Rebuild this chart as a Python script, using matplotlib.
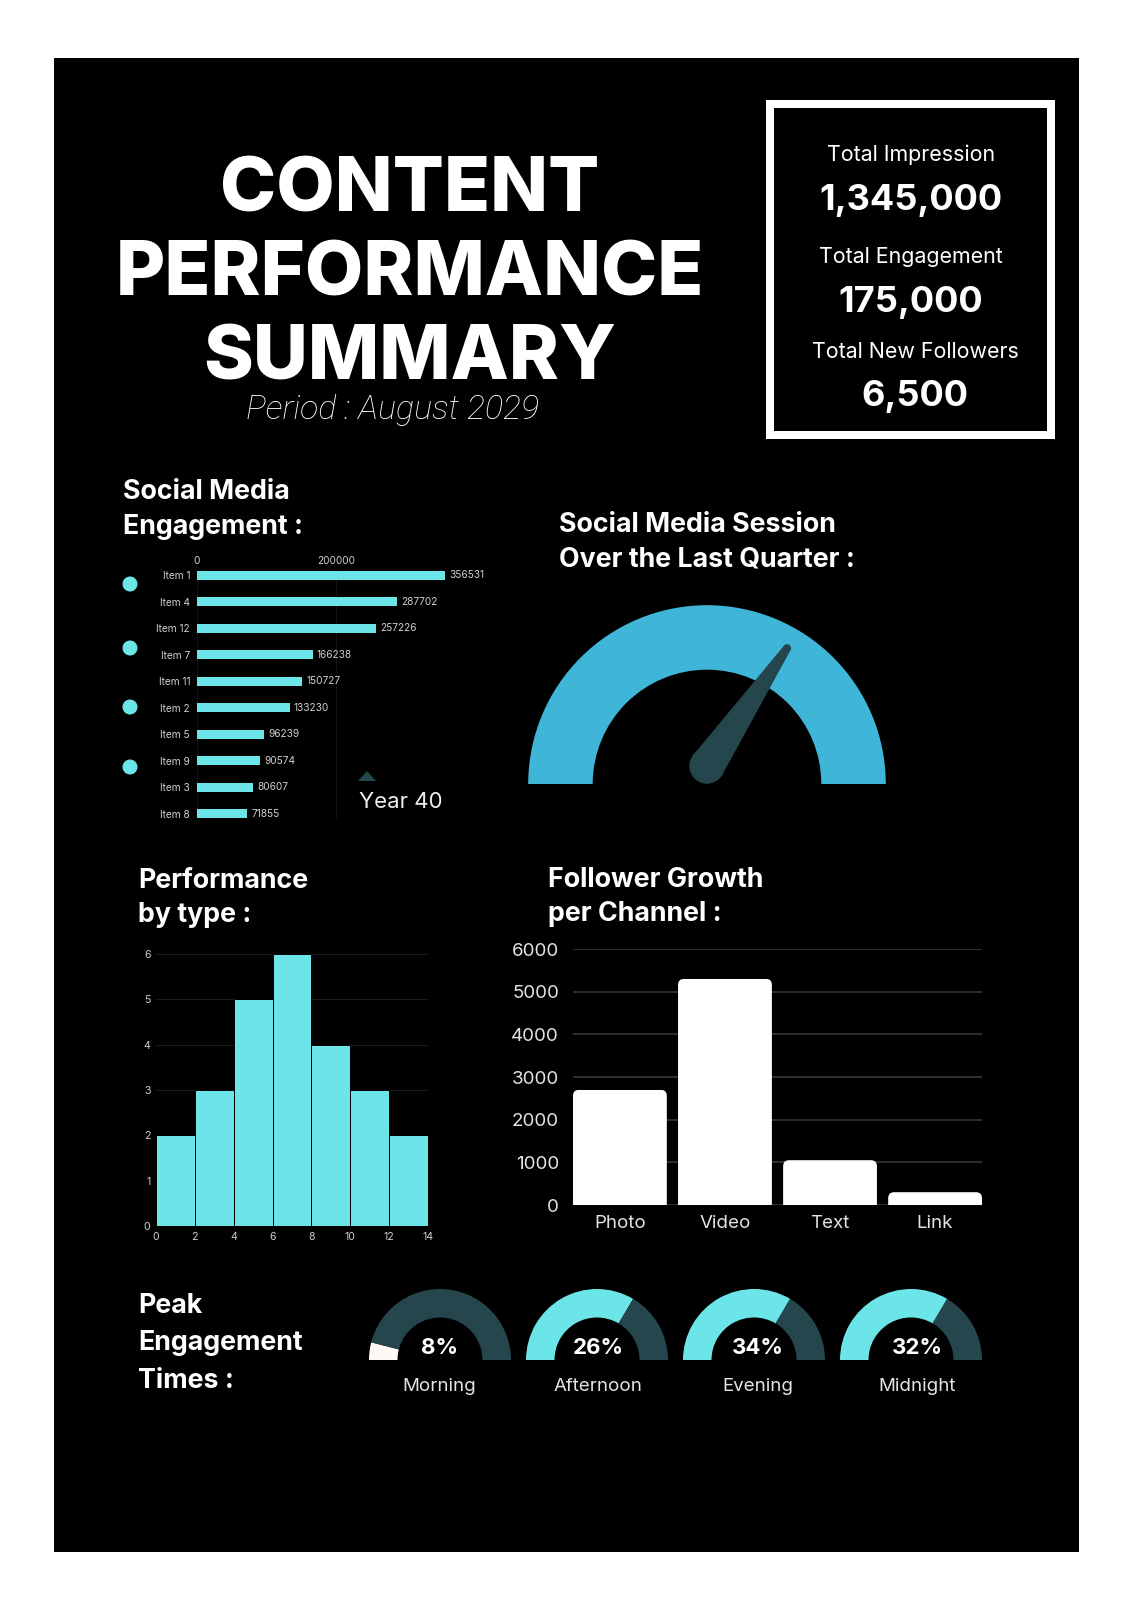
import numpy as np
import matplotlib
matplotlib.use('Agg')
import matplotlib.pyplot as plt
from matplotlib.patches import Rectangle, Polygon, Circle, FancyBboxPatch

W, H = 1131, 1600
CYAN = '#6CE5E8'
TEAL = '#24464C'
BLUE = '#3FB6D8'
HEAD = 'Inter'
BODY = 'Inter'

# Social media engagement
item_names = ['Item 1', 'Item 4', 'Item 12', 'Item 7', 'Item 11',
              'Item 2', 'Item 5', 'Item 9', 'Item 3', 'Item 8']
item_values = [356531, 287702, 257226, 166238, 150727,
               133230, 96239, 90574, 80607, 71855]
legend_dots_y = [584, 648, 707, 767]

# session gauge, share of the half circle
session_value = 0.69

# performance by type
hist_edges = [0, 2, 4, 6, 8, 10, 12, 14]
hist_counts = [2, 3, 5, 6, 4, 3, 2]

# follower growth
channels = ['Photo', 'Video', 'Text', 'Link']
followers = [2700, 5300, 1050, 300]

# peak times
peak_names = ['Morning', 'Afternoon', 'Evening', 'Midnight']
peak_labels = ['8%', '26%', '34%', '32%']
peak_fill = [0.08, 0.67, 0.67, 0.67]
peak_colors = ['#FFF8F6', CYAN, CYAN, CYAN]
peak_centers = [440, 597, 754, 911]
peak_text_x = [439, 598, 757.5, 917]

stat_names = ['Total Impression', 'Total Engagement', 'Total New Followers']
stat_values = ['1,345,000', '175,000', '6,500']

fig = plt.figure(figsize=(W / 100, H / 100), dpi=100, facecolor='white')


def px_axes(x0, y0, x1, y1):
    ax = fig.add_axes([x0 / W, 1 - y1 / H, (x1 - x0) / W, (y1 - y0) / H])
    ax.set_facecolor('none')
    return ax


page = px_axes(0, 0, W, H)
page.set_xlim(0, W)
page.set_ylim(H, 0)
page.axis('off')
page.add_patch(Rectangle((54, 58), 1025, 1494, color='black', lw=0))
page.add_patch(Rectangle((770, 104), 281, 331, fill=False, ec='white', lw=5.76))


def put(x, y, s, size, weight='normal', ha='left', family=BODY, **kw):
    page.text(x, y, s, fontsize=size, fontweight=weight, ha=ha, va='baseline',
              family=family, color=kw.pop('color', 'white'), **kw)


# title block
for y, s in zip([212, 296, 380], ['CONTENT', 'PERFORMANCE', 'SUMMARY']):
    put(410, y, s, 54.5, 'heavy', ha='center', family=HEAD)
put(393, 419, 'Period : August 2029', 24.5, 'light', ha='center', style='italic', family='Roboto')

for y, x, s in zip([161, 263, 358], [911, 911, 915], stat_names):
    put(x, y, s, 15.4, ha='center')
for y, x, s in zip([210, 312, 406], [911, 911, 915], stat_values):
    put(x, y, s, 26, 'bold', ha='center')

# headings
for x, y, s in [(123, 499, 'Social Media'), (123, 534, 'Engagement :'),
                (559, 532, 'Social Media Session'), (559, 566, 'Over the Last Quarter :'),
                (138, 888, 'Performance'), (138, 922, 'by type :'),
                (548, 887, 'Follower Growth'), (548, 921, 'per Channel :'),
                (138, 1313, 'Peak'), (138, 1350, 'Engagement'), (138, 1388, 'Times :')]:
    put(x, y, s, 19.3, 'bold', family=HEAD)

# horizontal bars
ax = px_axes(197, 570, 500, 818)
pos = np.arange(len(item_values))
bars = ax.barh(pos, item_values, height=0.34, color=CYAN)
ax.bar_label(bars, labels=[str(v) for v in item_values], padding=3.2,
             fontsize=7.3, color='#cfcfcf', family=BODY)
ax.set_xlim(0, 436000)
ax.set_ylim(9.17, -0.2)
ax.set_yticks(pos, item_names)
ax.set_xticks([0, 200000], ['0', '200000'])
ax.xaxis.tick_top()
ax.tick_params(length=0, labelsize=7.3, labelcolor='#cfcfcf', pad=5)
ax.tick_params(axis='x', pad=3)
ax.grid(axis='x', color='#111516', lw=0.8)
ax.set_axisbelow(True)
for sp in ax.spines.values():
    sp.set_visible(False)
for lab in ax.get_xticklabels() + ax.get_yticklabels():
    lab.set_family(BODY)

for y in legend_dots_y:
    page.add_patch(Circle((130, y), 7.5, color=CYAN, lw=0))
page.add_patch(Polygon([(358, 781), (367, 771), (376, 781)], color=TEAL, lw=0))
put(359, 808, 'Year 40', 16, color='#eeeeee')

# session gauge
R = 178.8
ax = px_axes(707 - R, 784 - R, 707 + R, 784 + R)
ax.pie([1, 1], colors=[BLUE, 'none'], startangle=180,
       counterclock=False, radius=1, wedgeprops={'width': 1 - 114.3 / R, 'lw': 0})
ax.set_xlim(-1, 1)
ax.set_ylim(-1, 1)
ang = np.pi * (1 - session_value)
base = np.array([0, 18 / R])
tip = base + 142.5 / R * np.array([np.cos(ang), np.sin(ang)])
nrm = np.array([-np.sin(ang), np.cos(ang)])
r0, r1 = 17.7 / R, 4 / R
ax.add_patch(Polygon([base + nrm * r0, tip + nrm * r1, tip - nrm * r1, base - nrm * r0],
                     color=TEAL, lw=0))
ax.add_patch(Circle(base, r0, color=TEAL, lw=0))
ax.add_patch(Circle(tip, r1, color=TEAL, lw=0))

# performance by type
ax = px_axes(156, 954, 428, 1226)
ax.bar(hist_edges[:-1], hist_counts, width=2, align='edge', color=CYAN,
       edgecolor='black', lw=0.7, zorder=3)
ax.set_xlim(0, 14)
ax.set_ylim(0, 6)
ax.set_xticks(hist_edges)
ax.set_yticks(range(7))
ax.tick_params(length=0, labelsize=7.6, labelcolor='#cfcfcf', pad=4)
ax.grid(axis='y', color='#1c1c1c', lw=0.8)
ax.set_axisbelow(True)
for sp in ax.spines.values():
    sp.set_visible(False)
for lab in ax.get_xticklabels() + ax.get_yticklabels():
    lab.set_family(BODY)

# follower growth
ax = px_axes(573, 949, 982, 1205)
x = np.arange(len(channels))
bar_w = 0.893
bars = ax.bar(x, followers, width=bar_w, color='white', zorder=3)
ax.set_xlim(-bar_w / 2, 3 + bar_w / 2)
ax.set_ylim(0, 6000)
ax.set_xticks(x, channels)
ax.set_yticks(range(0, 7000, 1000))
ax.tick_params(length=0, labelsize=13.5, labelcolor='#e4e4e4', pad=10)
ax.tick_params(axis='x', pad=7.5)
ax.grid(axis='y', color='#3c3c3c', lw=1.1)
ax.set_axisbelow(True)
for sp in ax.spines.values():
    sp.set_visible(False)
for lab in ax.get_xticklabels() + ax.get_yticklabels():
    lab.set_family(BODY)
# rounded top corners
rx = 6 / 105
ry = 6 / (256 / 6000)
for b in bars:
    clip = FancyBboxPatch((b.get_x(), -1000), b.get_width(), b.get_height() + 1000,
                          boxstyle=f'round,pad=0,rounding_size={rx}', mutation_aspect=ry / rx,
                          transform=ax.transData)
    b.set_clip_path(clip)

# peak times
R = 71
for cx, tx, frac, col, pct, name in zip(peak_centers, peak_text_x, peak_fill, peak_colors,
                                        peak_labels, peak_names):
    ax = px_axes(cx - R, 1360 - R, cx + R, 1360 + R)
    ax.pie([frac, 1 - frac, 1], colors=[col, TEAL, 'none'], startangle=180, counterclock=False,
           radius=1, wedgeprops={'width': 1 - 42.5 / R, 'lw': 0})
    ax.set_xlim(-1, 1)
    ax.set_ylim(-1, 1)
    put(tx, 1354, pct, 16, 'bold', ha='center', family=HEAD)
    put(tx, 1391, name, 13.5, ha='center', color='#e4e4e4')

fig.savefig('out.png', dpi=100, facecolor='white')
